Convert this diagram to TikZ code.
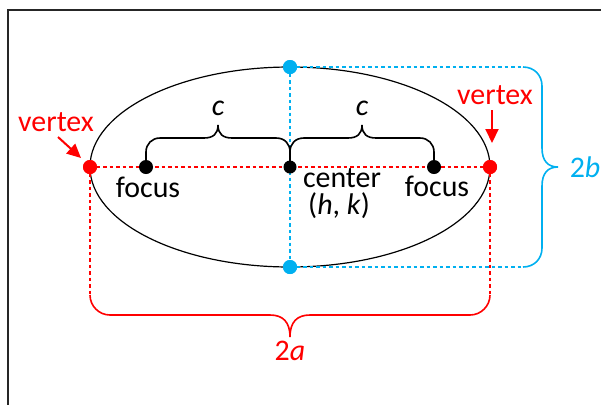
\documentclass[tikz,border=0pt]{standalone}
\usepackage{fontspec}
\setmainfont{Carlito}
\usetikzlibrary{arrows.meta}
\definecolor{vred}{RGB}{255,0,0}
\definecolor{vblue}{RGB}{0,176,240}
\begin{document}
\begin{tikzpicture}[x=1bp,y=-1bp,
  dotnode/.style={circle,inner sep=0pt,minimum size=14bp},
  lbl/.style={anchor=base,inner sep=0pt,font=\fontsize{30}{34}\selectfont},
  rdotted/.style={vred,line width=1.6bp,dash pattern=on 3.5bp off 3bp},
  bdotted/.style={vblue,line width=1.6bp,dash pattern=on 3.5bp off 3bp},
  bracepath/.style={line width=1.6bp},
  arr/.style={vred,line width=2bp,-{Triangle[length=14bp,width=13bp]}}
]
\useasboundingbox (0,0) rectangle (601,404);
% frame
\coordinate (fbl) at (8,405);
\coordinate (ftl) at (8,10);
\coordinate (ftr) at (602,10);
\draw[line width=2bp,black!85] (fbl) -- (ftl) -- (ftr);

% ellipse
\coordinate (ctr) at (290,167);
\draw[line width=1.2bp] (ctr) ellipse [x radius=200, y radius=100];

% dots (positions)
\node[dotnode,fill=vred] (lv) at (90,167) {};
\node[dotnode,fill=vred] (rv) at (490,167) {};
\node[dotnode,fill=black] (lf) at (146,167) {};
\node[dotnode,fill=black] (rf) at (434,167) {};
\node[dotnode,fill=vblue] (tv) at (290,67) {};
\node[dotnode,fill=vblue] (bv) at (290,267) {};

% helper coordinates
\coordinate (lvd) at (90,295);
\coordinate (rvd) at (490,295);
\coordinate (tvr) at (523,67);
\coordinate (bvr) at (523,267);

% dotted guides
\draw[rdotted] (lv.center) -- (rv.center);
\draw[rdotted] (lv.center) -- (lvd);
\draw[rdotted] (rv.center) -- (rvd);
\draw[bdotted] (tv.center) -- (bv.center);
\draw[bdotted] (tv.center) -- (tvr);
\draw[bdotted] (bv.center) -- (bvr);

% black braces (c)
\draw[bracepath] (lf.center) -- (146,152) .. controls (146,144) and (152,138) .. (160,138)
  -- (204,138) .. controls (213,138) and (218,134) .. (218,125)
  .. controls (218,134) and (223,138) .. (232,138)
  -- (276,138) .. controls (285,138) and (290,144) .. (290,152) -- (ctr);
\draw[bracepath] (ctr) -- (290,152) .. controls (290,144) and (295,138) .. (304,138)
  -- (348,138) .. controls (357,138) and (362,134) .. (362,125)
  .. controls (362,134) and (367,138) .. (376,138)
  -- (420,138) .. controls (428,138) and (434,144) .. (434,152) -- (rf.center);

% red brace (2a)
\draw[bracepath,vred] (lvd) .. controls (90,306) and (99,315) .. (110,315)
  -- (270,315) .. controls (283,315) and (290,322) .. (290,337)
  .. controls (290,322) and (297,315) .. (310,315)
  -- (470,315) .. controls (481,315) and (490,306) .. (rvd);

% blue brace (2b)
\draw[bracepath,vblue] (tvr) .. controls (534,67) and (542,75) .. (542,86)
  -- (542,148) .. controls (542,161) and (548,167) .. (558,167)
  .. controls (548,167) and (542,173) .. (542,186)
  -- (542,248) .. controls (542,259) and (534,267) .. (bvr);

% redraw dots on top
\fill[vred] (lv) circle[radius=7bp];
\fill[vred] (rv) circle[radius=7bp];
\fill[black] (lf) circle[radius=6.5bp];
\fill[black] (rf) circle[radius=6.5bp];
\fill[black] (ctr) circle[radius=6.5bp];
\fill[vblue] (tv) circle[radius=7bp];
\fill[vblue] (bv) circle[radius=7bp];

% labels
\node[lbl,text=vred] (lvl) at (56,131) {vertex};
\node[lbl,text=vred] (rvl) at (495,104) {vertex};
\node[lbl] (lfl) at (148,197) {focus};
\node[lbl] (rfl) at (437,196) {focus};
\node[lbl] (cl) at (342,187) {center};
\node[lbl] (hk) at (339,214) {(\textit{h}, \textit{k})};
\node[lbl] (c1) at (218,115) {\textit{c}};
\node[lbl] (c2) at (362,115) {\textit{c}};
\node[lbl,text=vred] (ta) at (290,360) {2\textit{a}};
\node[lbl,text=vblue] (tb) at (585,177) {2\textit{b}};

% arrows
\coordinate (la0) at (58,137);
\coordinate (la1) at (81,158);
\coordinate (ra0) at (492,110);
\coordinate (ra1) at (492,143);
\draw[arr] (la0) -- (la1);
\draw[arr] (ra0) -- (ra1);
\end{tikzpicture}
\end{document}
